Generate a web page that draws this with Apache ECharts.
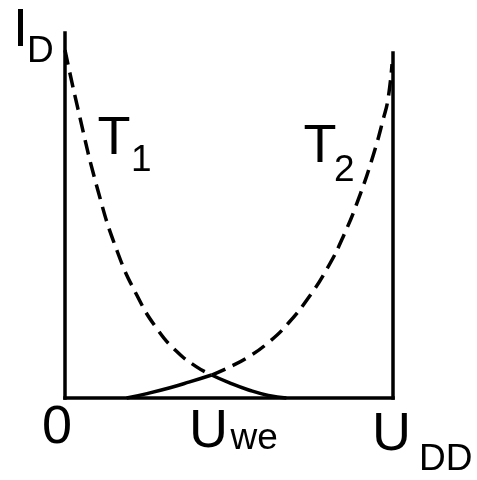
<!DOCTYPE html>
<html>
<head>
<meta charset="utf-8">
<script src="https://cdn.jsdelivr.net/npm/echarts@6/dist/echarts.min.js"></script>
<style>
  html, body { margin: 0; padding: 0; background: #ffffff; }
  #chart { width: 477px; height: 480px; }
</style>
</head>
<body>
<div id="chart"></div>
<script>
// Drain current I_D of the two transistors against the voltage U (0 .. U_DD = 100)
const t1U = [0, 4, 10, 16, 22, 28, 34, 40, 44.7, 50, 56, 62, 67.5];
const t1I = [95.3, 79, 57, 40, 28, 19, 12.8, 8.6, 6.3, 4.2, 2.2, 0.7, 0];
const t2U = [18.8, 25, 32, 38, 44.7, 50, 56, 62, 68, 74, 80, 85, 90, 94, 97, 98.5, 99.7];
const t2I = [0, 1.2, 2.8, 4.4, 6.3, 8.4, 11.3, 15.2, 20.4, 27.2, 35.6, 44.6, 55.8, 66.6, 76.3, 82, 91.5];

// Operating point where both currents are equal
const uWe = 44.7;
// Supply rail U_DD and the height of its vertical line
const uDD = 100;
const railTop = 94.5;

// Tick labels on the voltage axis (main glyph + subscript)
const xTickValues = [0, uWe, uDD];
const xTickMain = ['0', 'U', 'U'];
const xTickSub = ['', 'we', 'DD'];

// Curve labels
const curveNames = ['T', 'T'];
const curveSubs = ['1', '2'];

const pairs = (xs, ys) => xs.map((x, i) => [x, ys[i]]);
const t1 = pairs(t1U, t1I);
const t2 = pairs(t2U, t2I);

const FONT = "'Liberation Sans', Arial, sans-serif";
const INK = '#000000';

function curve(data, dashed) {
  return {
    type: 'line',
    data: data,
    smooth: 0.5,
    showSymbol: false,
    silent: true,
    clip: false,
    lineStyle: { color: INK, width: 3.5, type: dashed ? [15, 8] : 'solid', cap: 'butt' }
  };
}

const axisLine = { show: true, lineStyle: { color: INK, width: 3.5, cap: 'square' } };

const chart = echarts.init(document.getElementById('chart'), null, { renderer: 'canvas' });

chart.setOption({
  animation: false,
  backgroundColor: '#ffffff',
  grid: { left: 65, right: 84, top: 33, bottom: 82 },
  xAxis: {
    type: 'value', min: 0, max: uDD,
    axisLine: axisLine,
    axisTick: { show: false },
    axisLabel: { show: false },
    splitLine: { show: false }
  },
  yAxis: {
    type: 'value', min: 0, max: 100,
    axisLine: axisLine,
    axisTick: { show: false },
    axisLabel: { show: false },
    splitLine: { show: false }
  },
  series: [
    // T1: dashed down to the operating point, solid beyond it
    curve(t1.filter(p => p[0] <= uWe), true),
    curve(t1.filter(p => p[0] >= uWe), false),
    // T2: solid up to the operating point, dashed beyond it
    curve(t2.filter(p => p[0] <= uWe), false),
    curve(t2.filter(p => p[0] >= uWe), true),
    // Supply rail at U_DD
    {
      type: 'line',
      data: [[uDD, 0], [uDD, railTop]],
      showSymbol: false,
      silent: true,
      clip: false,
      lineStyle: { color: INK, width: 3.5, cap: 'square' }
    }
  ]
});

// Text annotations
function txt(text, x, y, size, align) {
  return {
    type: 'text', silent: true, z: 10,
    x: x, y: y,
    style: {
      text: text, fill: INK,
      font: size + 'px ' + FONT,
      align: align || 'center',
      verticalAlign: 'middle'
    }
  };
}

const MAIN = 54, SUB = 37;
const axisY = chart.convertToPixel({ gridIndex: 0 }, [0, 0])[1];

// placement of each tick label relative to its tick
const tickPlace = [
  { dx: -8, dy: 30 },
  { dx: -3, dy: 34, sx: 22, sy: 7 },
  { dx: -1.5, dy: 37, sx: 27.5, sy: 25 }
];

const elements = [];
xTickValues.forEach((v, i) => {
  const px = chart.convertToPixel({ gridIndex: 0 }, [v, 0])[0];
  const p = tickPlace[i];
  const cx = px + p.dx, cy = axisY + p.dy;
  elements.push(txt(xTickMain[i], cx, cy, MAIN));
  if (xTickSub[i]) elements.push(txt(xTickSub[i], cx + p.sx, cy + p.sy, SUB, 'left'));
});

// Axis title I_D
elements.push(txt('I', 20.5, 31, MAIN));
elements.push(txt('D', 27, 52, SUB, 'left'));

// Curve names T1, T2
elements.push(txt(curveNames[0], 114, 139, MAIN));
elements.push(txt(curveSubs[0], 131, 161, SUB, 'left'));
elements.push(txt(curveNames[1], 320, 147, MAIN));
elements.push(txt(curveSubs[1], 334, 171, SUB, 'left'));

chart.setOption({ graphic: { elements: elements } });
</script>
</body>
</html>
